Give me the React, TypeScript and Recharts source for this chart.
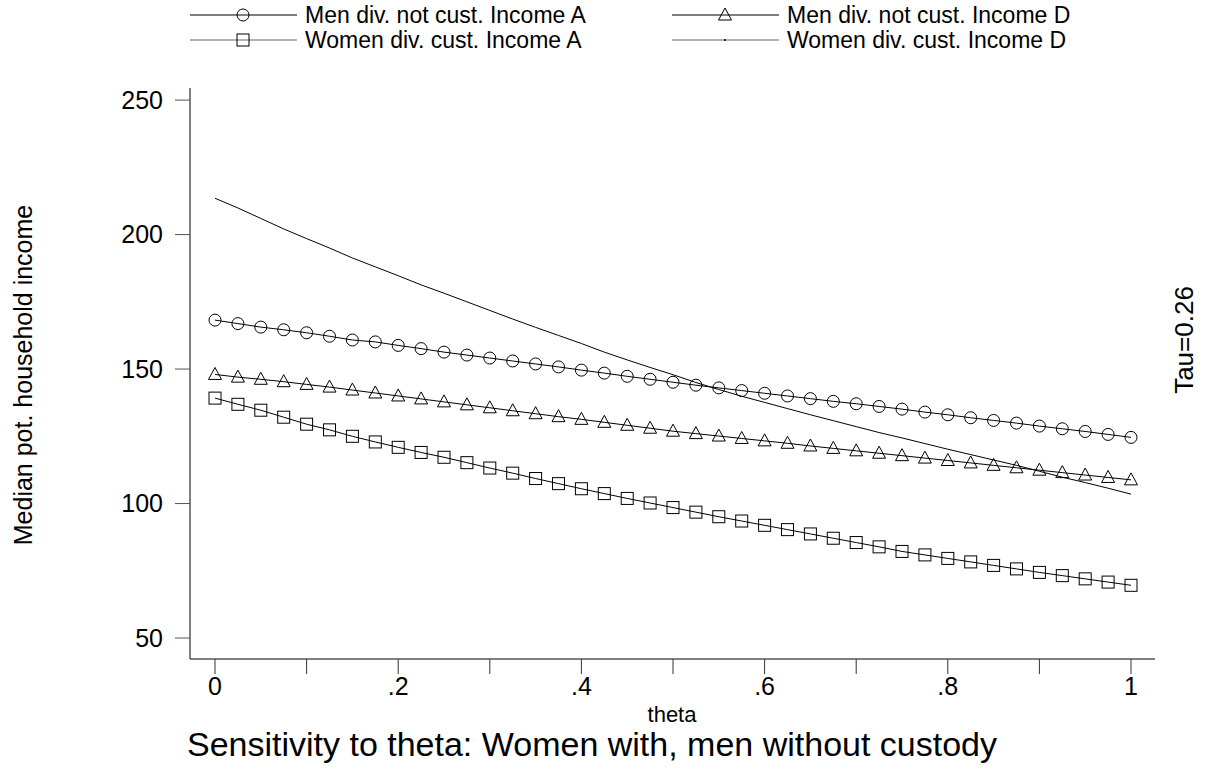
import { LineChart, Line, XAxis, YAxis } from "recharts";

const FONT = "'Liberation Sans', Arial, sans-serif";
const INK = "#000";

const THETA = [
  0, 0.025, 0.05, 0.075, 0.1, 0.125, 0.15, 0.175, 0.2, 0.225, 0.25, 0.275,
  0.3, 0.325, 0.35, 0.375, 0.4, 0.425, 0.45, 0.475, 0.5, 0.525, 0.55, 0.575,
  0.6, 0.625, 0.65, 0.675, 0.7, 0.725, 0.75, 0.775, 0.8, 0.825, 0.85, 0.875,
  0.9, 0.925, 0.95, 0.975, 1,
];

const MEN_NOT_CUST_A = [
  168.2, 166.9, 165.6, 164.6, 163.5, 162.2, 160.8, 160.1, 158.8, 157.6, 156.3,
  155.2, 154.1, 153.0, 151.9, 150.8, 149.6, 148.5, 147.3, 146.2, 145.1, 144.0,
  143.0, 142.0, 141.0, 140.0, 139.0, 138.0, 137.1, 136.1, 135.1, 134.0, 133.0,
  131.9, 130.9, 129.9, 128.8, 127.8, 126.8, 125.7, 124.6,
];

const MEN_NOT_CUST_D = [
  148.0, 147.0, 146.2, 145.3, 144.3, 143.3, 142.2, 141.1, 140.0, 138.9, 137.8,
  136.7, 135.6, 134.5, 133.4, 132.3, 131.3, 130.2, 129.1, 128.0, 126.9, 126.0,
  125.1, 124.2, 123.3, 122.4, 121.4, 120.5, 119.6, 118.7, 117.8, 116.9, 116.0,
  115.1, 114.2, 113.3, 112.4, 111.5, 110.6, 109.7, 108.8,
];

const WOMEN_CUST_A = [
  139.2, 136.9, 134.7, 132.1, 129.5, 127.4, 125.0, 122.9, 120.9, 119.0, 117.2,
  115.2, 113.2, 111.3, 109.3, 107.4, 105.5, 103.7, 101.9, 100.2, 98.5, 96.8,
  95.1, 93.5, 91.9, 90.3, 88.7, 87.1, 85.5, 83.9, 82.2, 80.9, 79.6, 78.3, 77.0,
  75.7, 74.4, 73.2, 72.0, 70.8, 69.6,
];

const WOMEN_CUST_D = [
  213.5, 209.9, 206.0, 202.1, 198.5, 195.0, 191.3, 188.0, 184.7, 181.3, 178.2,
  175.0, 171.8, 168.6, 165.5, 162.5, 159.5, 156.3, 153.4, 150.6, 147.9, 145.0,
  142.4, 139.9, 137.6, 135.3, 133.0, 130.8, 128.6, 126.4, 124.4, 122.3, 120.2,
  118.2, 116.2, 114.2, 112.0, 109.8, 107.8, 105.7, 103.5,
];

const X_TICKS = [0, 0.1, 0.2, 0.3, 0.4, 0.5, 0.6, 0.7, 0.8, 0.9, 1];
const X_LABELS = ["0", "", ".2", "", ".4", "", ".6", "", ".8", "", "1"];
const Y_TICKS = [50, 100, 150, 200, 250];

const data = THETA.map((theta, i) => ({
  theta,
  menA: MEN_NOT_CUST_A[i],
  menD: MEN_NOT_CUST_D[i],
  womenA: WOMEN_CUST_A[i],
  womenD: WOMEN_CUST_D[i],
}));

// hollow marker shapes
const circleMark = (cx: number, cy: number, k?: string | number) => (
  <circle key={k} cx={cx} cy={cy} r={6} fill="none" stroke={INK} strokeWidth={1} />
);
const squareMark = (cx: number, cy: number, k?: string | number) => (
  <rect key={k} x={cx - 6} y={cy - 6} width={12} height={12} fill="none" stroke={INK} strokeWidth={1} />
);
const triangleMark = (cx: number, cy: number, k?: string | number) => (
  <path
    key={k}
    d={`M${cx},${cy - 7} L${cx + 6.5},${cy + 5} L${cx - 6.5},${cy + 5} Z`}
    fill="none"
    stroke={INK}
    strokeWidth={1}
  />
);

const dotOf =
  (mark: (cx: number, cy: number, k?: string | number) => React.ReactElement) =>
  (props: any) =>
    mark(props.cx, props.cy, `${props.dataKey}-${props.index}`);

function LegendRow({
  x,
  y,
  label,
  mark,
  stroke,
}: {
  x: number;
  y: number;
  label: string;
  mark: (cx: number, cy: number) => React.ReactElement | null;
  stroke: string;
}) {
  return (
    <g>
      <line x1={x} y1={y} x2={x + 107} y2={y} stroke={stroke} strokeWidth={1.2} />
      {mark(x + 53, y)}
      <text x={x + 115} y={y + 8} fontSize={23} fontFamily={FONT} fill={INK}>
        {label}
      </text>
    </g>
  );
}

export default function App() {
  return (
    <div
      style={{
        position: "absolute",
        left: 0,
        top: 0,
        width: 1205,
        height: 770,
        background: "#fff",
        fontFamily: FONT,
      }}
    >
      <LineChart
        width={1205}
        height={770}
        data={data}
        margin={{ top: 88, right: 50, bottom: 71, left: 110 }}
      >
        <XAxis
          dataKey="theta"
          type="number"
          domain={[-0.0273, 1.0262]}
          ticks={X_TICKS}
          tickFormatter={(v: number) => X_LABELS[X_TICKS.indexOf(v)] ?? ""}
          height={40}
          tickSize={15}
          tickMargin={3}
          axisLine={{ stroke: INK }}
          tickLine={{ stroke: "#333" }}
          tick={{ fill: INK, fontSize: 25, fontFamily: FONT }}
          allowDataOverflow
        />
        <YAxis
          type="number"
          domain={[42.2, 254.5]}
          ticks={Y_TICKS}
          width={80}
          tickSize={15}
          tickMargin={12}
          axisLine={{ stroke: INK }}
          tickLine={{ stroke: "#555" }}
          tick={{ fill: INK, fontSize: 25, fontFamily: FONT }}
          allowDataOverflow
        />
        <Line
          dataKey="womenD"
          stroke={INK}
          strokeWidth={1}
          dot={false}
          activeDot={false}
          isAnimationActive={false}
        />
        <Line
          dataKey="womenA"
          stroke={INK}
          strokeWidth={1}
          dot={dotOf(squareMark)}
          activeDot={false}
          isAnimationActive={false}
        />
        <Line
          dataKey="menD"
          stroke={INK}
          strokeWidth={1}
          dot={dotOf(triangleMark)}
          activeDot={false}
          isAnimationActive={false}
        />
        <Line
          dataKey="menA"
          stroke={INK}
          strokeWidth={1}
          dot={dotOf(circleMark)}
          activeDot={false}
          isAnimationActive={false}
        />
      </LineChart>

      <svg
        width={1205}
        height={770}
        style={{ position: "absolute", left: 0, top: 0, pointerEvents: "none" }}
      >
        <LegendRow x={190} y={15} label="Men div. not cust. Income A" mark={circleMark} stroke={INK} />
        <LegendRow x={672} y={15} label="Men div. not cust. Income D" mark={triangleMark} stroke={INK} />
        <LegendRow x={190} y={40} label="Women div. cust. Income A" mark={squareMark} stroke="#666" />
        <LegendRow
          x={672}
          y={40}
          label="Women div. cust. Income D"
          mark={(cx, cy) => <circle cx={cx} cy={cy} r={1} fill={INK} />}
          stroke="#666"
        />

        <text
          transform="translate(23,375) rotate(-90)"
          textAnchor="middle"
          dominantBaseline="central"
          fontSize={25}
          fontFamily={FONT}
          fill={INK}
        >
          Median pot. household income
        </text>
        <text
          transform="translate(1184,340) rotate(-90)"
          textAnchor="middle"
          dominantBaseline="central"
          fontSize={26}
          fontFamily={FONT}
          fill={INK}
        >
          Tau=0.26
        </text>
        <text x={672} y={722} textAnchor="middle" fontSize={22} fontFamily={FONT} fill={INK}>
          theta
        </text>
        <text x={592} y={756} textAnchor="middle" fontSize={34} fontFamily={FONT} fill={INK}>
          Sensitivity to theta: Women with, men without custody
        </text>
      </svg>
    </div>
  );
}
